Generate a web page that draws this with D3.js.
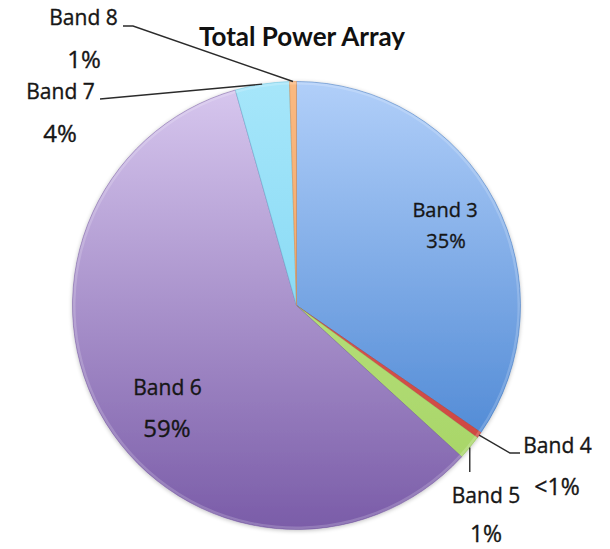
<!DOCTYPE html>
<html>
<head>
<meta charset="utf-8">
<script src="https://cdn.jsdelivr.net/npm/d3@7"></script>
<style>
  html, body { margin: 0; padding: 0; background: #fff; }
  svg { display: block; }
</style>
</head>
<body>
<svg id="chart" width="610" height="549"></svg>
<script>
// ---- data ----
const title = "Total Power Array";
const bands = ["Band 3", "Band 4", "Band 5", "Band 6", "Band 7", "Band 8"];
const shares = [34.6, 0.45, 1.75, 58.8, 3.9, 0.5];
const pctLabels = ["35%", "<1%", "1%", "59%", "4%", "1%"];

// ---- styles / layout ----
const W = 610, H = 549;
const cx = 296.5, cy = 305.5, R = 224;
const colors = {
  "Band 3": ["#b1cff9", "#3a7acd"],
  "Band 4": ["#e86a63", "#c8403a"],
  "Band 5": ["#c6ea8e", "#a3d262"],
  "Band 6": ["#d8c8ef", "#7a5ca8"],
  "Band 7": ["#a6e6fa", "#6fd0f0"],
  "Band 8": ["#f9b981", "#f29a52"]
};
const labelLayout = {
  "Band 3": { name: [445, 217], pct: [446, 248], nameSize: 20, pctSize: 20, leader: null },
  "Band 4": { name: [557.5, 453], pct: [557, 495], nameSize: 21, pctSize: 23, leader: [[520, 453], [510, 453]] },
  "Band 5": { name: [486, 503], pct: [486, 542], nameSize: 21, pctSize: 23, leader: "vertical", leaderY: 472 },
  "Band 6": { name: [167.5, 395], pct: [167, 437], nameSize: 21, pctSize: 24, leader: null },
  "Band 7": { name: [60.5, 99], pct: [60, 142], nameSize: 21, pctSize: 24, leader: [[100, 99]] },
  "Band 8": { name: [83.5, 25], pct: [84, 68], nameSize: 21, pctSize: 24, leader: [[123, 26], [133, 26]] }
};
const font = "'Open Sans', 'DejaVu Sans', sans-serif";

const svg = d3.select("#chart");
const defs = svg.append("defs");

const data = bands.map((b, i) => ({ band: b, value: shares[i], pct: pctLabels[i] }));

const pie = d3.pie().value(d => d.value).sort(null).startAngle(0).endAngle(2 * Math.PI);
const arcs = pie(data);
const arc = d3.arc().innerRadius(0).outerRadius(R);
const edgeArc = d3.arc().innerRadius(R).outerRadius(R);

// gradients (vertical, across whole pie, in the pie group's local coordinates)
arcs.forEach((a, i) => {
  const gr = defs.append("linearGradient")
    .attr("id", "grad" + i)
    .attr("gradientUnits", "userSpaceOnUse")
    .attr("x1", 0).attr("x2", 0)
    .attr("y1", -R).attr("y2", R);
  const c = colors[a.data.band];
  gr.append("stop").attr("offset", "0%").attr("stop-color", c[0]);
  gr.append("stop").attr("offset", "100%").attr("stop-color", c[1]);
});

// soft shadow filter
const f = defs.append("filter").attr("id", "shadow").attr("x", "-10%").attr("y", "-10%").attr("width", "120%").attr("height", "120%");
f.append("feGaussianBlur").attr("in", "SourceAlpha").attr("stdDeviation", 2).attr("result", "blur");
f.append("feOffset").attr("in", "blur").attr("dx", 0).attr("dy", 1).attr("result", "off");
f.append("feComponentTransfer").attr("in", "off").attr("result", "sh")
  .append("feFuncA").attr("type", "linear").attr("slope", 0.25);
const fm = f.append("feMerge");
fm.append("feMergeNode").attr("in", "sh");
fm.append("feMergeNode").attr("in", "SourceGraphic");

const g = svg.append("g").attr("transform", `translate(${cx},${cy})`).attr("filter", "url(#shadow)");

g.selectAll("path.slice")
  .data(arcs)
  .join("path")
  .attr("class", "slice")
  .attr("d", arc)
  .attr("fill", (d, i) => `url(#grad${i})`)
  .attr("stroke", d => d3.color(colors[d.data.band][1]).darker(0.3))
  .attr("stroke-opacity", 0.6)
  .attr("stroke-width", 0.8)
  .attr("stroke-linejoin", "round");

// subtle bevel highlight along rim
g.selectAll("path.rim")
  .data(arcs)
  .join("path")
  .attr("class", "rim")
  .attr("d", d3.arc().innerRadius(R - 3).outerRadius(R - 0.5))
  .attr("fill", "#ffffff")
  .attr("fill-opacity", 0.18);

// leader lines
const lineG = svg.append("g");
arcs.forEach(a => {
  const L = labelLayout[a.data.band];
  if (!L.leader) return;
  const p = edgeArc.centroid(a);
  const px = cx + p[0], py = cy + p[1];
  let pts;
  if (L.leader === "vertical") {
    pts = [[px, L.leaderY], [px, py]];
  } else {
    pts = L.leader.concat([[px, py]]);
  }
  lineG.append("path")
    .attr("d", d3.line()(pts))
    .attr("fill", "none")
    .attr("stroke", "#2b2b2b")
    .attr("stroke-width", 1.4);
});

// labels
const textG = svg.append("g").attr("font-family", font)
  .attr("fill", "#161616").attr("stroke", "#161616").attr("stroke-width", 0.35);
arcs.forEach(a => {
  const L = labelLayout[a.data.band];
  textG.append("text")
    .attr("x", L.name[0]).attr("y", L.name[1])
    .attr("text-anchor", "middle")
    .attr("font-size", L.nameSize)
    .text(a.data.band);
  textG.append("text")
    .attr("x", L.pct[0]).attr("y", L.pct[1])
    .attr("text-anchor", "middle")
    .attr("font-size", L.pctSize)
    .text(a.data.pct);
});

// title
svg.append("text")
  .attr("x", 302).attr("y", 46)
  .attr("text-anchor", "middle")
  .attr("font-family", "Lato, 'Open Sans', sans-serif")
  .attr("font-weight", "bold")
  .attr("font-size", 26)
  .attr("fill", "#111")
  .text(title);
</script>
</body>
</html>
